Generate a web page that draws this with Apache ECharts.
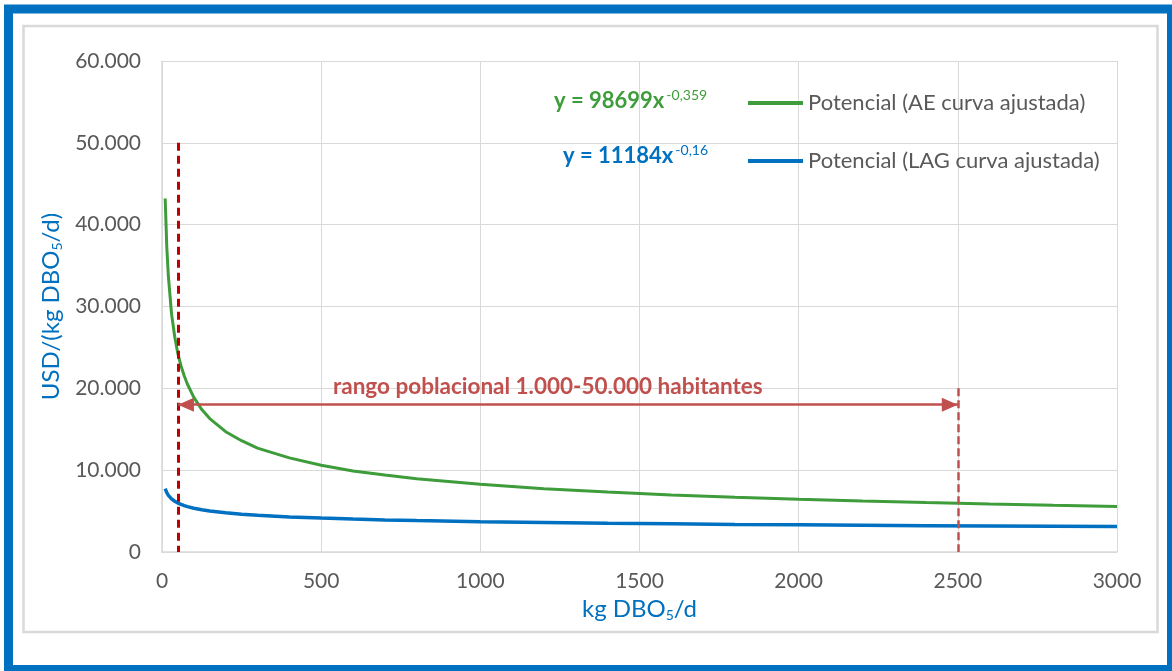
<!DOCTYPE html>
<html><head><meta charset="utf-8">
<script src="https://cdn.jsdelivr.net/npm/echarts@6/dist/echarts.min.js"></script>
<style>html,body{margin:0;padding:0;background:#fff}#c{width:1172px;height:671px}</style>
</head><body><div id="c"></div>
<script>
// kg DBO5/d
const xValues = [10,15,20,30,40,50,60,70,80,100,125,150,200,250,300,400,500,600,700,800,1000,1200,1400,1600,1800,2000,2200,2400,2600,2800,3000];
// Potencial (AE curva ajustada)
const aeValues = [43200,37300,33700,29100,26300,24200,22700,21500,20500,18900,17400,16300,14700,13600,12700,11500,10600,9900,9400,8950,8270,7740,7330,6980,6690,6450,6230,6040,5870,5710,5570];
// Potencial (LAG curva ajustada)
const lagValues = [7740,7250,6930,6490,6200,5980,5810,5670,5550,5350,5170,5020,4790,4620,4490,4290,4140,4020,3920,3840,3700,3600,3510,3440,3370,3320,3270,3220,3180,3140,3110];
const seriesNames = ['Potencial (AE curva ajustada)','Potencial (LAG curva ajustada)'];
const rangeStart = 50, rangeEnd = 2500;      // kg DBO5/d
const rangeArrowY = 18000, rangeTopLeft = 50000, rangeTopRight = 20000;
const rangeLabel = 'rango poblacional 1.000-50.000 habitantes';

const GREEN = '#3E9C3A', BLUE = '#0070C0', GRAY = '#595959', GRID = '#D9D9D9';
const FONT = 'Lato';

const chart = echarts.init(document.getElementById('c'));
const pairs = v => xValues.map((x,i)=>[x,v[i]]);
const fmt = v => v === 0 ? '0' : String(v).replace(/\B(?=(\d{3})+(?!\d))/g,'.');
const subRich = {sub:{color:BLUE,fontFamily:FONT,fontSize:14,padding:[11,0,0,0]}};

chart.setOption({
  animation:false,
  backgroundColor:'#fff',
  grid:{left:162,top:61,right:55,bottom:119,containLabel:false},
  xAxis:{type:'value',min:0,max:3000,interval:500,
    name:'kg DBO{sub|5}/d',nameLocation:'middle',nameGap:45,
    nameTextStyle:{color:BLUE,fontFamily:FONT,fontSize:24,rich:subRich},
    axisLine:{lineStyle:{color:GRID,width:1.5}},axisTick:{show:false},
    axisLabel:{color:GRAY,fontFamily:FONT,fontSize:21,margin:19,formatter:v=>String(v)},
    splitLine:{show:true,lineStyle:{color:GRID,width:1}}},
  yAxis:{type:'value',min:0,max:60000,interval:10000,
    name:'USD/(kg DBO{sub|5}/d)',nameLocation:'middle',nameGap:97,
    nameTextStyle:{color:BLUE,fontFamily:FONT,fontSize:24,rich:subRich},
    axisLine:{show:true,lineStyle:{color:GRID,width:1.5}},axisTick:{show:false},
    axisLabel:{color:GRAY,fontFamily:FONT,fontSize:21,margin:21,formatter:fmt},
    splitLine:{show:true,lineStyle:{color:GRID,width:1}}},
  legend:{orient:'vertical',left:743,top:87,itemWidth:55,itemHeight:4,itemGap:36,icon:'rect',
    textStyle:{color:GRAY,fontFamily:FONT,fontSize:22,lineHeight:22},
    data:seriesNames},
  series:[
    {name:seriesNames[0],type:'line',data:pairs(aeValues),showSymbol:false,symbol:'none',
      color:GREEN,lineStyle:{color:GREEN,width:3},z:3},
    {name:seriesNames[1],type:'line',data:pairs(lagValues),showSymbol:false,symbol:'none',
      color:BLUE,lineStyle:{color:BLUE,width:3.5},z:3,
      markLine:{silent:true,animation:false,symbol:['none','none'],label:{show:false},
        data:[
          [{coord:[rangeStart,rangeTopLeft],lineStyle:{color:'#C00000',width:3,type:[8,5]}},{coord:[rangeStart,0]}],
          [{coord:[rangeEnd,rangeTopRight],lineStyle:{color:'#C0504D',width:2.5,type:[8,4]}},{coord:[rangeEnd,0]}],
          [{coord:[rangeStart,rangeArrowY],symbol:'triangle',symbolSize:[14,16],symbolOffset:[0,8],lineStyle:{color:'#C0504D',width:2.5,type:'solid'}},
           {coord:[rangeEnd,rangeArrowY],symbol:'triangle',symbolSize:[14,16],symbolOffset:[0,8]}]
        ]}}
  ],
  graphic:[
    {type:'rect',shape:{x:8.5,y:9,width:1163,height:660.5},style:{fill:'none',stroke:BLUE,lineWidth:9},silent:true,z:100},
    {type:'rect',shape:{x:23.5,y:26,width:1134,height:606},style:{fill:'none',stroke:'#D9D9D9',lineWidth:2.5},silent:true,z:100},
    {type:'text',left:333,top:375,style:{text:rangeLabel,fill:'#C0504D',font:'bold 22.5px '+FONT},z:50},
    {type:'text',left:554,top:88,style:{text:'{a|y = 98699x}{s|-0,359}',
      rich:{a:{fill:GREEN,fontFamily:FONT,fontSize:22,fontWeight:'bold',lineHeight:25,verticalAlign:'middle'},
            s:{fill:GREEN,fontFamily:FONT,fontSize:14,lineHeight:14,verticalAlign:'top',padding:[0,0,0,2]}}},z:50},
    {type:'text',left:563,top:143,style:{text:'{a|y = 11184x}{s|-0,16}',
      rich:{a:{fill:BLUE,fontFamily:FONT,fontSize:22,fontWeight:'bold',lineHeight:25,verticalAlign:'middle'},
            s:{fill:BLUE,fontFamily:FONT,fontSize:14,lineHeight:14,verticalAlign:'top',padding:[0,0,0,2]}}},z:50}
  ]
});
</script></body></html>
